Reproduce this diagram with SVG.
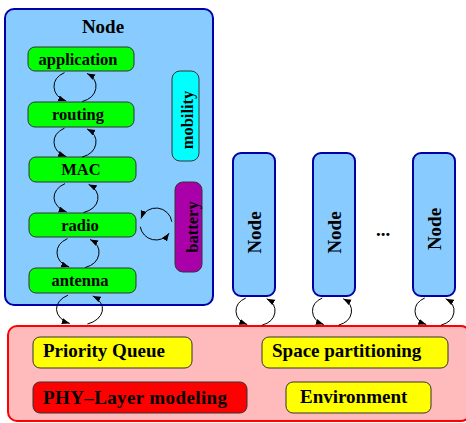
<svg xmlns="http://www.w3.org/2000/svg" width="466" height="423" viewBox="0 0 466 423">
<defs>
<style>
text{font-family:"Liberation Serif","Times New Roman",serif;font-weight:bold;fill:#000}
.lbl{font-size:16.5px;text-anchor:middle}
.big{font-size:19px}
.mid{text-anchor:middle}
.blue{fill:#88CCFF;stroke:#0000AA;stroke-width:2}
.green{fill:#00FF00;stroke:#333;stroke-width:1}
.yellow{fill:#FFFF00;stroke:#333;stroke-width:1}
.conn path{fill:none;stroke:#000;stroke-width:1;marker-end:url(#ah)}
</style>
<marker id="ah" markerUnits="userSpaceOnUse" markerWidth="9" markerHeight="7" refX="8" refY="3" orient="auto">
<path d="M0,0 L8,3 L0,6 z" fill="#000"/>
</marker>
</defs>

<g id="env">
<rect x="8" y="326" width="462" height="95" rx="9" fill="#FFBBBB" stroke="#FF0000" stroke-width="2"/>
</g>
<g id="pq"><rect class="yellow" x="33" y="337" width="159" height="31" rx="7"/><text class="big" x="43" y="357">Priority Queue</text></g>
<g id="sp"><rect class="yellow" x="262" y="337" width="186" height="31" rx="7"/><text class="big" x="272" y="357">Space partitioning</text></g>
<g id="phy"><rect x="33" y="382" width="214" height="31" rx="7" fill="#FF0000" stroke="#333" stroke-width="1"/><text class="big" x="43" y="404" textLength="184">PHY–Layer modeling</text></g>
<g id="envbox"><rect class="yellow" x="286" y="382" width="145" height="31" rx="7"/><text class="big" x="300" y="403">Environment</text></g>

<g id="node-main">
<rect class="blue" x="5" y="9" width="208" height="296" rx="9"/>
<text class="big mid" x="103" y="33">Node</text>
</g>
<g id="application"><rect class="green" x="28" y="47" width="106" height="24" rx="7"/><text class="lbl" x="78" y="64.5">application</text></g>
<g id="routing"><rect class="green" x="28" y="102" width="106" height="25" rx="7"/><text class="lbl" x="78" y="120">routing</text></g>
<g id="mac"><rect class="green" x="29" y="157" width="107" height="25" rx="7"/><text class="lbl" x="81" y="175">MAC</text></g>
<g id="radio"><rect class="green" x="29" y="213" width="107" height="24" rx="7"/><text class="lbl" x="80" y="230.5">radio</text></g>
<g id="antenna"><rect class="green" x="29" y="268" width="107" height="25" rx="7"/><text class="lbl" x="80" y="286">antenna</text></g>
<g id="mobility"><rect x="172" y="71" width="27" height="90" rx="8" fill="#00FFFF" stroke="#333" stroke-width="1"/><text class="lbl" transform="translate(193,120) rotate(-90)">mobility</text></g>
<g id="battery"><rect x="175" y="182" width="27" height="90" rx="8" fill="#AA00AA" stroke="#333" stroke-width="1"/><text class="lbl" transform="translate(198,227) rotate(-90)">battery</text></g>

<g id="node2"><rect class="blue" x="233" y="153" width="42" height="143" rx="8"/><text class="big mid" transform="translate(261,232.5) rotate(-90)">Node</text></g>
<g id="node3"><rect class="blue" x="313" y="153" width="42" height="143" rx="8"/><text class="big mid" transform="translate(341,232.5) rotate(-90)">Node</text></g>
<g id="dots"><text class="big mid" x="383" y="236">...</text></g>
<g id="node4"><rect class="blue" x="413" y="153" width="42" height="143" rx="8"/><text class="big mid" transform="translate(441,229) rotate(-90)">Node</text></g>

<g class="conn" id="connectors">
<path d="M64.5,72.64 A21 16 0 0 0 66.13,101"/>
<path d="M82.18,101.54 A21 16 0 0 0 87.05,73.4"/>
<path d="M64.5,128.14 A21 16 0 0 0 66.13,156.5"/>
<path d="M82.18,157.04 A21 16 0 0 0 87.05,128.9"/>
<path d="M65,183.64 A22 16 0 0 0 66.7,212"/>
<path d="M83.52,212.54 A22 16 0 0 0 88.63,184.4"/>
<path d="M67.5,238.64 A21 16 0 0 0 69.13,267"/>
<path d="M85.18,267.54 A21 16 0 0 0 90.05,239.4"/>
<path d="M68,295.14 A23 16 0 0 0 69.78,323.5"/>
<path d="M87.37,324.04 A23 16 0 0 0 92.7,295.9"/>
<path d="M171.84,221.77 A16 16 0 0 0 140.97,218.53"/>
<path d="M140.24,226.78 A16 16 0 0 0 169.1,233.18"/>
<path d="M245.75,298.01 A19.5 15 0 0 0 247.26,324.59"/>
<path d="M262.17,325.1 A19.5 15 0 0 0 266.69,298.71"/>
<path d="M322.25,298.01 A19.5 15 0 0 0 323.76,324.59"/>
<path d="M338.67,325.1 A19.5 15 0 0 0 343.19,298.71"/>
<path d="M424.75,298.01 A19.5 15 0 0 0 426.26,324.59"/>
<path d="M441.17,325.1 A19.5 15 0 0 0 445.69,298.71"/>
</g>
</svg>
